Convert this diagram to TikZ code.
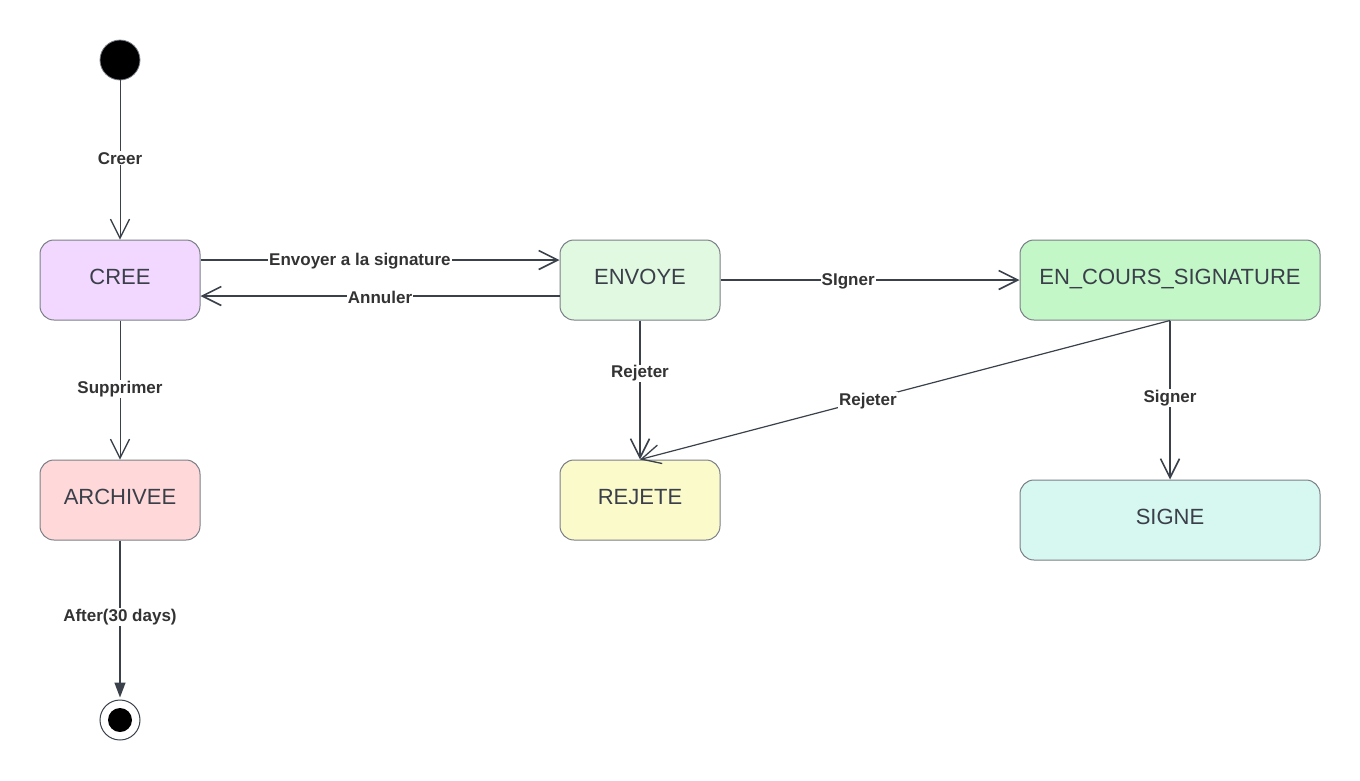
\documentclass[tikz,border=0pt]{standalone}
\usepackage{fontspec}
\setmainfont{Liberation Sans}
\usetikzlibrary{arrows.meta,calc}
\definecolor{ln}{HTML}{3A414A}
\definecolor{bd}{HTML}{7A7F87}
\definecolor{tx}{HTML}{3A3F4A}
\definecolor{lb}{HTML}{333333}
\definecolor{cCree}{HTML}{F2D8FE}
\definecolor{cArch}{HTML}{FFD9D9}
\definecolor{cEnv}{HTML}{E1F9E1}
\definecolor{cRej}{HTML}{FBFACB}
\definecolor{cEnc}{HTML}{C3F7C8}
\definecolor{cSig}{HTML}{D7F8F1}
\tikzset{
  statebox/.style={draw=bd, line width=1pt, rounded corners=14pt, minimum height=80pt,
    text=tx, font=\fontsize{22}{26}\selectfont, inner sep=0pt, text height=16pt, text depth=7pt},
  edge/.style={draw=ln, line width=1pt, -{Straight Barb[length=19pt,width=19pt,line width=1.3pt]}},
  thick edge/.style={edge, line width=1.8pt, -{Straight Barb[length=19pt,width=19pt,line width=1.6pt]}},
  elabel/.style={fill=white, text=lb, font=\fontsize{17}{20}\selectfont\bfseries, inner sep=1pt, yshift=-1.5pt}
}
\begin{document}
\begin{tikzpicture}[x=1pt,y=-1pt]
\useasboundingbox (0,0) rectangle (1360,780);
\node[circle, fill=black, draw=bd, line width=0.8pt, minimum size=40pt, inner sep=0pt] (init) at (120,60) {};
\node[statebox, fill=cCree, minimum width=160pt] (cree) at (120,280) {CREE};
\node[statebox, fill=cArch, minimum width=160pt] (arch) at (120,500) {ARCHIVEE};
\node[circle, fill=white, draw=ln, line width=1pt, minimum size=40pt, inner sep=0pt] (fin) at (120,720) {};
\node[circle, fill=black, minimum size=24pt, inner sep=0pt] (finin) at (120,720) {};
\node[statebox, fill=cEnv, minimum width=160pt] (env) at (640,280) {ENVOYE};
\node[statebox, fill=cRej, minimum width=160pt] (rej) at (640,500) {REJETE};
\node[statebox, fill=cEnc, minimum width=300pt] (enc) at (1170,280) {EN\_COURS\_SIGNATURE};
\node[statebox, fill=cSig, minimum width=300pt] (sig) at (1170,520) {SIGNE};

\draw[edge] (init) -- node[elabel, pos=0.48] (lcreer) {Creer} (cree);
\draw[thick edge] ($(cree.east)+(0,-20)$) -- node[elabel, pos=0.444] (lenv) {Envoyer a la signature} ($(env.west)+(0,-20)$);
\draw[thick edge] ($(env.west)+(0,16)$) -- node[elabel, pos=0.5] (lann) {Annuler} ($(cree.east)+(0,16)$);
\draw[thick edge] (env) -- node[elabel, pos=0.427] (lsig1) {SIgner} (enc);
\draw[thick edge] (env) -- node[elabel, pos=0.37] (lrej1) {Rejeter} (rej);
\draw[edge, line width=1.2pt] (enc.south) -- node[elabel, pos=0.57] (lrej2) {Rejeter} (rej.north);
\draw[thick edge] (enc) -- node[elabel, pos=0.48] (lsig2) {Signer} (sig);
\draw[edge] (cree) -- node[elabel, pos=0.48] (lsup) {Supprimer} (arch);
\draw[draw=ln, line width=1.4pt, -{Triangle[length=15pt,width=11pt]}] (arch) -- node[elabel, pos=0.48] (laft) {After(30 days)} ($(fin.north)+(0,-2)$);
\end{tikzpicture}
\end{document}
